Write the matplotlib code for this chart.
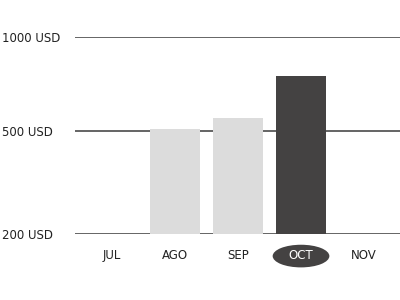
import numpy as np
import matplotlib.pyplot as plt
from matplotlib.patches import Ellipse

months = ["JUL", "AGO", "SEP", "OCT", "NOV"]
values = [np.nan, 511, 569, 792, np.nan]
bar_colors = ["#dcdcdc", "#dcdcdc", "#dcdcdc", "#444242", "#dcdcdc"]
y_ticks = [200, 500, 1000]
y_labels = ["200 USD", "500 USD", "1000 USD"]
highlight = "OCT"

# uneven tick spacing, mapped piecewise
tick_px = [0, 103, 197]


def fwd(v):
    return np.interp(v, y_ticks, tick_px)


def inv(p):
    return np.interp(p, tick_px, y_ticks)


plt.rcParams["font.family"] = "DejaVu Sans"

fig = plt.figure(figsize=(4, 3), dpi=100)
ax = fig.add_axes([0.1875, 0.22, 0.8125, 0.6567])
ax.set_yscale("function", functions=(fwd, inv))

x = np.arange(len(months))
heights = [v - 200 for v in values]
ax.bar(x, heights, bottom=200, width=0.794, color=bar_colors, zorder=3)

ax.set_ylim(200, 1000)
ax.set_xlim(-0.587, 4.571)

ax.set_yticks(y_ticks)
ax.set_yticklabels(y_labels)
ax.set_axisbelow(True)
ax.yaxis.grid(True, color="#3a3a3a", linewidth=1.1)
ax.tick_params(axis="y", length=0, pad=52.5, labelsize=8.5, labelcolor="#222222")
for lab in ax.get_yticklabels():
    lab.set_horizontalalignment("left")

ax.set_xticks(x)
ax.set_xticklabels(months)
ax.tick_params(axis="x", length=0, pad=11, labelsize=8.5, labelcolor="#222222")
hi = months.index(highlight)
ax.get_xticklabels()[hi].set_color("white")
# pill behind the highlighted month label
pill = Ellipse((hi, -0.112), 0.9, 0.115, transform=ax.get_xaxis_transform(),
               fc="#444242", ec="none", clip_on=False, zorder=0.4)
ax.add_patch(pill)

for s in ax.spines.values():
    s.set_visible(False)

fig.savefig("out.png", dpi=100)
